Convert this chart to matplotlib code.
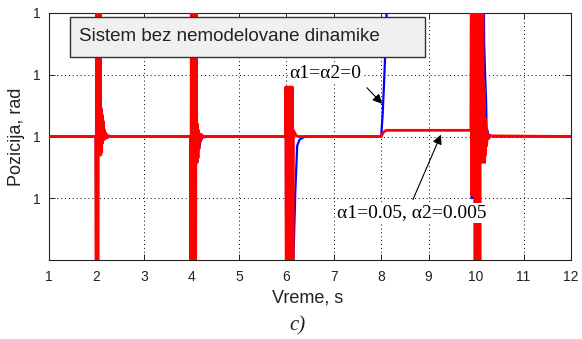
import numpy as np
import matplotlib
matplotlib.use('Agg')
import matplotlib.pyplot as plt
from matplotlib.patches import Rectangle
from matplotlib.ticker import FormatStrFormatter

# odstupanje pozicije od 1 rad, u jedinicama 1e-4 rad
red_t = [1.0, 1.98,
         1.985, 1.99, 1.995, 2.0, 2.01, 2.02, 2.03, 2.04, 2.05, 2.06, 2.07, 2.08, 2.09, 2.10,
         2.11, 2.12, 2.13, 2.14, 2.15, 2.16, 2.18, 2.20, 2.23, 2.26, 2.30,
         3.98, 3.99, 4.0, 4.01, 4.02, 4.03, 4.04, 4.05, 4.06, 4.07, 4.08, 4.09, 4.10,
         4.11, 4.12, 4.13, 4.14, 4.15, 4.16, 4.17, 4.19, 4.22, 4.25, 4.30,
         5.98, 5.99, 6.0, 6.01, 6.02, 6.03, 6.04, 6.05, 6.06, 6.07, 6.08, 6.09, 6.10,
         6.11, 6.12, 6.13, 6.14, 6.15, 6.16, 6.18, 6.20, 6.25,
         8.0, 8.04, 8.08, 8.12, 9.89,
         9.90, 9.91, 9.92, 9.93, 9.94, 9.95, 9.96, 9.97, 9.975, 10.02, 10.03, 10.04, 10.05,
         10.06, 10.07, 10.08, 10.09, 10.10, 10.13, 10.135, 10.14, 10.15, 10.16, 10.17,
         10.18, 10.19, 10.20, 10.21, 10.22, 10.24, 10.27, 10.30, 12.0]
red_d = [0, 0,
         0, -1.0, -3, 3, -3, 3, -3, 3, -0.3, 3, 0.45, 3, -0.3, 0.45,
         -0.25, 0.35, -0.1, 0.25, -0.05, 0.12, -0.04, 0.05, -0.02, 0.01, 0,
         0, -3, 3, -3, 3, -3, 3, -3, 3, -3, 3, -3, 3,
         0.25, -0.42, 0.2, -0.35, 0.1, -0.2, 0.05, -0.08, 0.03, -0.01, 0,
         0, 0.8, -3, 0.8, -3, 0.8, -3, 0.8, -3, 0.8, -3, 0.8, -3,
         0.8, -3, 0.8, -3, 0.1, 0.08, 0.06, 0.02, 0,
         0, 0.06, 0.09, 0.1, 0.1,
         3, -0.95, 3, -0.95, 3, -0.95, 3, -0.95, -3, -3, 3, -3, 3,
         -3, 3, -3, 3, 3, 3, -0.42, 3, 0.6, -0.3, 0.8,
         -0.42, 0.3, -0.3, 0.15, -0.15, 0.05, -0.03, 0.01, 0]

blue_t = [1.0, 1.98,
          1.985, 1.99, 1.995, 2.0, 2.01, 2.02, 2.03, 2.04, 2.05, 2.06, 2.07, 2.08, 2.09, 2.10,
          2.11, 2.12, 2.13, 2.14, 2.15, 2.16, 2.18, 2.20, 2.23, 2.26, 2.30,
          3.98, 3.99, 4.0, 4.02, 4.04, 4.06, 4.08, 4.10, 4.12, 4.14, 4.16, 4.19, 4.25,
          5.98, 5.99, 6.0, 6.02, 6.04, 6.06, 6.08, 6.10, 6.13, 6.15, 6.19, 6.23, 6.28, 6.40,
          8.0, 8.03, 8.06, 8.09, 8.12, 8.20, 9.89,
          9.91, 9.93, 9.95, 9.97, 10.03, 10.05, 10.07, 10.09, 10.12, 10.16, 10.17,
          10.19, 10.21, 10.22, 10.26, 10.35, 12.0]
blue_d = [0, 0,
          0, -1.0, -3, 3, -3, 3, -3, 3, -0.3, 3, 0.45, 3, -0.3, 0.45,
          -0.25, 0.35, -0.1, 0.25, -0.05, 0.12, -0.04, 0.05, -0.02, 0.01, 0,
          0, -3, 3, 3, -3, 3, -3, 3, -0.42, 0.1, -0.2, -0.08, 0,
          0, 0.8, -3, -3, 0.8, -3, 0.8, -3, -3, -2.0, -0.9, -0.15, -0.05, 0,
          0, 0.35, 0.85, 1.45, 2.1, 3.5, 3.5,
          -1.0, 3, -1.0, 3, -3, 3, -3, 3, 3, 2.5, 1.5,
          1.0, 0.6, 0.15, 0.03, 0, 0]

x_ticks = [1, 2, 3, 4, 5, 6, 7, 8, 9, 10, 11, 12]
y_ticks_d = [-1, 0, 1, 2]

red_pos = 1 + np.array(red_d) * 1e-4
blue_pos = 1 + np.array(blue_d) * 1e-4

plt.rcParams['font.family'] = ['Liberation Sans', 'DejaVu Sans']

fig = plt.figure(figsize=(5.82, 3.39), dpi=100)
ax = fig.add_axes([49 / 582, 1 - 260 / 339, 522 / 582, 247 / 339])

ax.plot(blue_t, blue_pos, color='#0000ff', lw=1.6, zorder=2)
ax.plot(red_t, red_pos, color='#ff0000', lw=2.0, zorder=3)

ax.set_xlim(1, 12)
ax.set_ylim(1 - 2e-4, 1 + 2e-4)
ax.set_xticks(x_ticks)
ax.set_yticks([1 + v * 1e-4 for v in y_ticks_d])
ax.yaxis.set_major_formatter(FormatStrFormatter('%.0f'))
ax.grid(True, color='k', linestyle=(0, (1, 3)), linewidth=0.7)
ax.set_axisbelow(True)
ax.tick_params(direction='in', top=True, right=True, length=4, width=0.7,
               labelsize=10, colors='#222222')
ax.tick_params(axis='x', pad=7)
ax.tick_params(axis='y', pad=6)
for s in ax.spines.values():
    s.set_linewidth(0.8)
    s.set_color('#222222')

ax.set_xlabel('Vreme, s', fontsize=13, va='center', color='#222222')
ax.xaxis.set_label_coords(0.495, -0.154)
ax.set_ylabel('Pozicija, rad', fontsize=13, va='center', color='#222222')
ax.yaxis.set_label_coords(-0.062, 0.5)

# okvir sa naslovom
ax.add_patch(Rectangle((0.0402, 0.822), 0.680, 0.162, transform=ax.transAxes,
                       facecolor='#f0f0f0', edgecolor='#333333', lw=1.0, zorder=6))
ax.text(0.0575, 0.905, 'Sistem bez nemodelovane dinamike', transform=ax.transAxes,
        fontsize=13.5, va='center', ha='left', color='#222222', zorder=7)

serif = ['Liberation Serif', 'DejaVu Serif']
ax.text(0.529, 0.757, 'α1=α2=0', transform=ax.transAxes, fontsize=14, family=serif,
        ha='center', va='center', zorder=7,
        bbox=dict(facecolor='white', edgecolor='none', pad=1))
ax.text(0.694, 0.190, 'α1=0.05, α2=0.005', transform=ax.transAxes, fontsize=14, family=serif,
        ha='center', va='center', zorder=7,
        bbox=dict(facecolor='white', edgecolor='none', pad=1))

ax.annotate('', xy=(8.02, 1 + 0.53e-4), xytext=(7.70, 1 + 0.79e-4),
            arrowprops=dict(arrowstyle='-|>', color='k', lw=0.8, mutation_scale=14,
                            shrinkA=0, shrinkB=0), zorder=8)
ax.annotate('', xy=(9.26, 1 + 0.03e-4), xytext=(8.67, 1 - 1.02e-4),
            arrowprops=dict(arrowstyle='-|>', color='k', lw=0.8, mutation_scale=14,
                            shrinkA=0, shrinkB=0), zorder=8)

fig.text(297 / 582, 1 - 326 / 339, 'c)', fontsize=15, family=serif, style='italic',
         ha='center', va='center', color='#222222')

fig.savefig('out.png', dpi=100)
